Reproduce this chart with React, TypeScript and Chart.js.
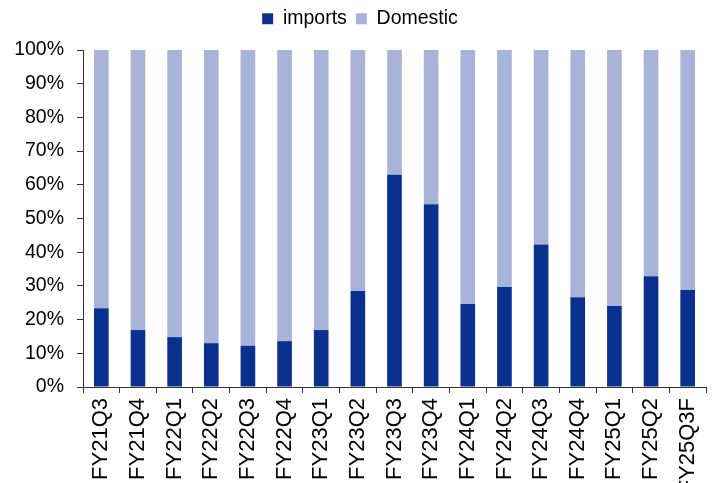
import React, { useEffect, useRef } from "react";
import { Chart, registerables } from "chart.js";

Chart.register(...registerables);

const categories = ["FY21Q3","FY21Q4","FY22Q1","FY22Q2","FY22Q3","FY22Q4","FY23Q1","FY23Q2","FY23Q3","FY23Q4","FY24Q1","FY24Q2","FY24Q3","FY24Q4","FY25Q1","FY25Q2","FY25Q3F"];
const imports = [23.4, 16.9, 14.8, 13.0, 12.2, 13.6, 16.9, 28.5, 63.0, 54.2, 24.6, 29.7, 42.3, 26.6, 24.0, 32.9, 28.8];
const domestic = imports.map((v) => 100 - v);
const yTicks = [0, 10, 20, 30, 40, 50, 60, 70, 80, 90, 100];

const legendHeight = {
  id: "legendHeight",
  beforeInit(chart: any) {
    const legend = chart.legend;
    if (!legend) return;
    const orig = legend.fit;
    legend.fit = function () {
      orig.call(this);
      this.height = 50;
    };
  },
  afterLayout(chart: any) {
    const legend = chart.legend;
    if (!legend) return;
    legend.left += 7;
    legend.right += 7;
  },
};

export default function App() {
  const ref = useRef<HTMLCanvasElement | null>(null);
  useEffect(() => {
    if (!ref.current) return;
    const family = "'Liberation Sans', Arial, sans-serif";
    const font = { family, size: 19.5 };
    const xfont = { family, size: 22 };
    const chart = new Chart(ref.current, {
      type: "bar",
      data: {
        labels: categories,
        datasets: [
          { label: "imports", data: imports, backgroundColor: "#0B318E", barPercentage: 0.4, categoryPercentage: 1 },
          { label: "Domestic", data: domestic, backgroundColor: "#A7B3D9", barPercentage: 0.4, categoryPercentage: 1 },
        ],
      },
      options: {
        animation: false,
        responsive: false,
        maintainAspectRatio: false,
        layout: { padding: { left: 0, right: 14, top: 0, bottom: 0 } },
        plugins: {
          legend: {
            position: "top",
            labels: { font, color: "#000", boxWidth: 11, boxHeight: 11, padding: 9 },
          },
          tooltip: { enabled: false },
        },
        scales: {
          x: {
            stacked: true,
            afterFit: (s: any) => { s.height = 96; },
            grid: { display: true, drawOnChartArea: false, offset: true, tickLength: 6, color: "#333" },
            border: { color: "#333", width: 1 },
            ticks: { font: xfont, color: "#000", maxRotation: 90, minRotation: 90, autoSkip: false, padding: 5 },
          },
          y: {
            stacked: true,
            min: 0,
            max: 100,
            afterFit: (s: any) => { s.width = 83; },
            afterBuildTicks: (axis: any) => {
              axis.ticks = yTicks.map((v) => ({ value: v }));
            },
            grid: { display: true, drawOnChartArea: false, tickLength: 6, color: "#333" },
            border: { color: "#333", width: 1 },
            ticks: { font, color: "#000", callback: (v: any) => v + "%", padding: 13 },
          },
        },
      },
      plugins: [legendHeight],
    });
    return () => chart.destroy();
  }, []);
  return (
    <div style={{ position: "fixed", left: 0, top: 0, width: 720, height: 483, background: "#fff" }}>
      <canvas ref={ref} width={720} height={483} />
    </div>
  );
}
